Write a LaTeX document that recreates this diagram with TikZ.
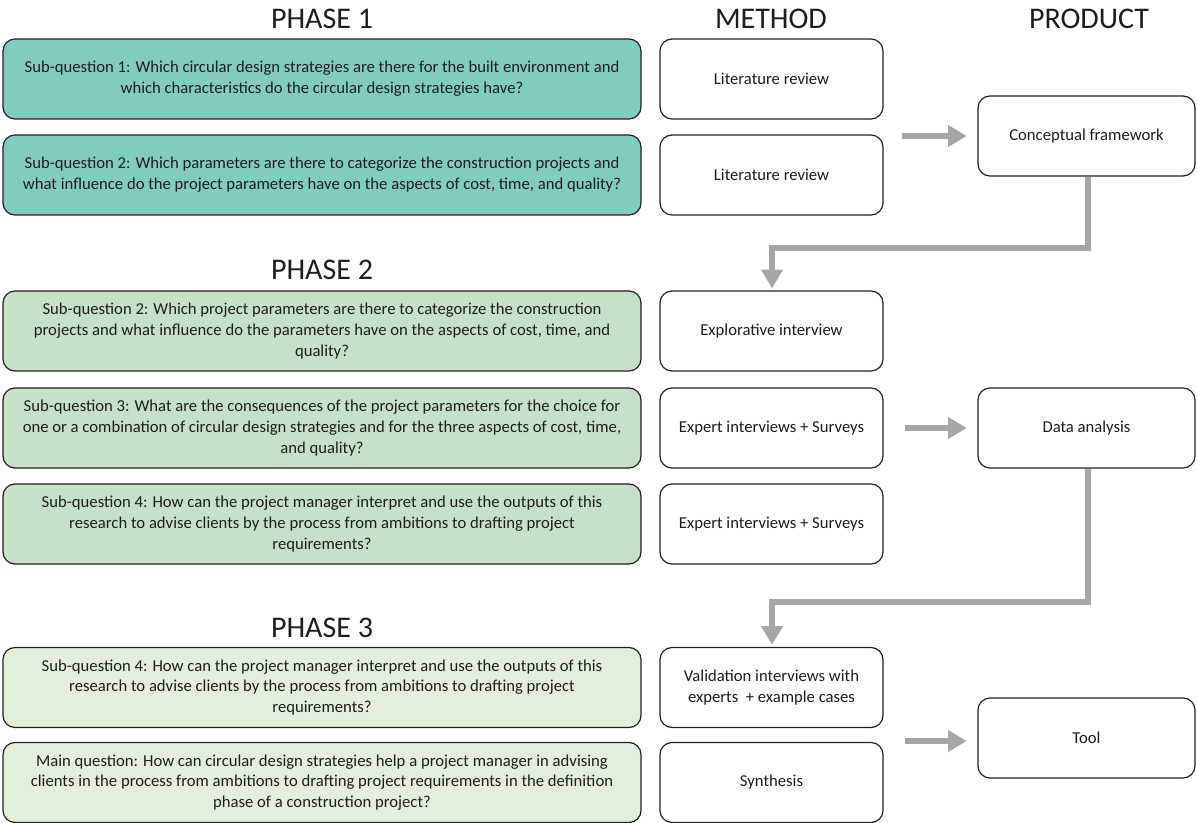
\documentclass[tikz,border=0pt]{standalone}
\usepackage{fontspec}
\setmainfont{Carlito}
\usetikzlibrary{arrows.meta,calc}
\definecolor{phaseone}{RGB}{128,204,191}
\definecolor{phasetwo}{RGB}{197,225,199}
\definecolor{phasethree}{RGB}{226,239,218}
\definecolor{arrowgray}{RGB}{166,166,166}
\definecolor{outline}{RGB}{34,34,34}
\definecolor{txt}{RGB}{30,30,30}
\begin{document}
\begin{tikzpicture}[x=0.75pt,y=-0.75pt,
  basebox/.style={draw=outline,line width=0.9pt,rounded corners=9pt,
    minimum height=60pt,inner sep=0pt,align=center,text=txt,
    font=\fontsize{12.5}{15.6}\selectfont},
  qbox/.style={basebox,minimum width=478.5pt},
  mbox/.style={basebox,minimum width=167.25pt,fill=white},
  pbox/.style={basebox,minimum width=162.75pt,fill=white},
  header/.style={font=\fontsize{22.5}{26}\selectfont,text=txt,inner sep=0pt},
  garrow/.style={draw=arrowgray,line width=4.5pt,
    -{Triangle[length=14pt,width=15.5pt]}}
]
\useasboundingbox (0,0) rectangle (1197,823);

% headers
\node[header] (h1) at (322,19) {PHASE 1};
\node[header] (h2) at (771,19) {METHOD};
\node[header] (h3) at (1089,19) {PRODUCT};
\node[header] (h4) at (322,270) {PHASE 2};
\node[header] (h5) at (322,628) {PHASE 3};

% phase 1
\node[qbox,fill=phaseone] (q1) at (322,79) {Sub-question 1: Which circular design strategies are there for the built environment and\\which characteristics do the circular design strategies have?};
\node[qbox,fill=phaseone] (q2) at (322,175) {Sub-question 2: Which parameters are there to categorize the construction projects and\\what influence do the project parameters have on the aspects of cost, time, and quality?};
\node[mbox] (m1) at (771.5,79) {Literature review};
\node[mbox] (m2) at (771.5,175) {Literature review};
\node[pbox] (p1) at (1086.5,136) {Conceptual framework};

% phase 2
\node[qbox,fill=phasetwo] (q3) at (322,331) {Sub-question 2: Which project parameters are there to categorize the construction\\projects and what influence do the parameters have on the aspects of cost, time, and\\quality?};
\node[qbox,fill=phasetwo] (q4) at (322,428) {Sub-question 3: What are the consequences of the project parameters for the choice for\\one or a combination of circular design strategies and for the three aspects of cost, time,\\and quality?};
\node[qbox,fill=phasetwo] (q5) at (322,524) {Sub-question 4: How can the project manager interpret and use the outputs of this\\research to advise clients by the process from ambitions to drafting project\\requirements?};
\node[mbox] (m3) at (771.5,331) {Explorative interview};
\node[mbox] (m4) at (771.5,428) {Expert interviews + Surveys};
\node[mbox] (m5) at (771.5,524) {Expert interviews + Surveys};
\node[pbox] (p2) at (1086.5,428) {Data analysis};

% phase 3
\node[qbox,fill=phasethree] (q6) at (322,687.5) {Sub-question 4: How can the project manager interpret and use the outputs of this\\research to advise clients by the process from ambitions to drafting project\\requirements?};
\node[qbox,fill=phasethree] (q7) at (322,782.5) {Main question: How can circular design strategies help a project manager in advising\\clients in the process from ambitions to drafting project requirements in the definition\\phase of a construction project?};
\node[mbox] (m6) at (771.5,687.5) {Validation interviews with\\experts~ + example cases};
\node[mbox] (m7) at (771.5,782.5) {Synthesis};
\node[pbox] (p3) at (1086.5,738) {Tool};

% horizontal arrows
\draw[garrow] ([xshift=14pt]m1.east |- p1.west) -- ([xshift=-8pt]p1.west);
\draw[garrow] ([xshift=16pt]m4.east |- p2.west) -- ([xshift=-8pt]p2.west);
\draw[garrow] ([xshift=16pt]m6.east |- 0,741) coordinate (a3s) -- ([xshift=-8pt]p3.west |- a3s);

% elbow connectors
\coordinate (k1) at (0,248);
\coordinate (k2) at (0,602);
\draw[garrow] ([xshift=1pt]p1.south) -- ([xshift=1pt]p1.south |- k1) -| ([xshift=0.4pt,yshift=1.5pt]m3.north);
\draw[garrow] ([xshift=1pt]p2.south) -- ([xshift=1pt]p2.south |- k2) -| ([xshift=0.4pt,yshift=1.5pt]m6.north);
\end{tikzpicture}
\end{document}
